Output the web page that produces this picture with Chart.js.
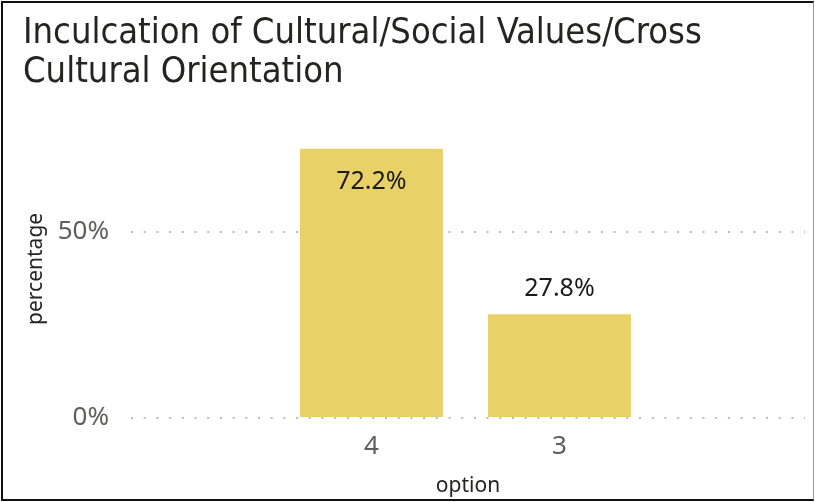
<!DOCTYPE html>
<html>
<head>
<meta charset="utf-8">
<script src="https://cdn.jsdelivr.net/npm/chart.js@4"></script>
<style>
  html, body { margin: 0; padding: 0; background: #fff; }
  #frame {
    position: absolute; left: 1px; top: 1px; width: 813px; height: 500px;
    box-sizing: border-box; border: 2px solid #111; border-right: 1px solid #999;
  }
  #chart { display: block; }
</style>
</head>
<body>
<div id="frame"><canvas id="chart" width="810" height="496"></canvas></div>
<script>
// data
const titleLines = ['Inculcation of Cultural/Social Values/Cross', 'Cultural Orientation'];
const options = ['4', '3'];
const percentage = [72.2, 27.8];
const yTicks = [0, 50];

const labelFont = '"Segoe UI", "Noto Sans", "Open Sans", sans-serif';

// value labels: inside the top of tall bars, above short ones
const valueLabels = {
    id: 'valueLabels',
    afterDatasetsDraw(chart) {
        const ctx = chart.ctx;
        const meta = chart.getDatasetMeta(0);
        ctx.save();
        ctx.font = '25px ' + labelFont;
        ctx.fillStyle = '#1a1a1a';
        ctx.textAlign = 'center';
        ctx.textBaseline = 'middle';
        meta.data.forEach((bar, i) => {
            const h = bar.base - bar.y;
            const y = h > 150 ? bar.y + 33 : bar.y - 25;
            ctx.fillText(percentage[i].toFixed(1) + '%', bar.x, y);
        });
        ctx.restore();
    }
};

const chart = new Chart(document.getElementById('chart'), {
    type: 'bar',
    data: {
        datasets: [{
            data: options.map((_, i) => ({ x: i, y: percentage[i] })),
            backgroundColor: '#E8D166',
            categoryPercentage: 1,
            barPercentage: 0.76
        }]
    },
    options: {
        responsive: false,
        animation: false,
        layout: { padding: { left: 20, right: 8, top: 0, bottom: 0 } },
        plugins: {
            legend: { display: false },
            tooltip: { enabled: false },
            title: {
                display: true, text: titleLines, align: 'start', color: '#252423',
                font: { family: '"DejaVu Sans Condensed", sans-serif', size: 36, weight: 'normal', lineHeight: 1.08 },
                padding: { top: 11, bottom: 28 }
            }
        },
        scales: {
            x: {
                type: 'linear', min: -1.279, max: 2.306, offset: false,
                afterBuildTicks: s => { s.ticks = options.map((_, i) => ({ value: i })); },
                afterFit: s => { s.height = 81; },
                grid: { display: false, offset: false },
                border: { display: false },
                ticks: {
                    callback: v => options[v], color: '#605E5C', padding: 5,
                    font: { family: labelFont, size: 26 }, maxRotation: 0
                },
                title: {
                    display: true, text: 'option', color: '#252423', padding: { top: 3, bottom: 0 },
                    font: { family: labelFont, size: 21 }
                }
            },
            y: {
                min: 0, max: 80,
                afterBuildTicks: s => { s.ticks = yTicks.map(v => ({ value: v })); },
                afterFit: s => { s.width = 108; },
                border: { display: false, dash: [2, 10.7] },
                grid: { color: '#BDBBB9', lineWidth: 2, drawTicks: false },
                ticks: {
                    callback: v => v + '%', color: '#605E5C', padding: 22,
                    font: { family: labelFont, size: 26 }
                },
                title: {
                    display: true, text: 'percentage', color: '#252423', padding: { top: 0, bottom: 0 },
                    font: { family: labelFont, size: 21 }
                }
            }
        }
    },
    plugins: [valueLabels]
});
</script>
</body>
</html>
